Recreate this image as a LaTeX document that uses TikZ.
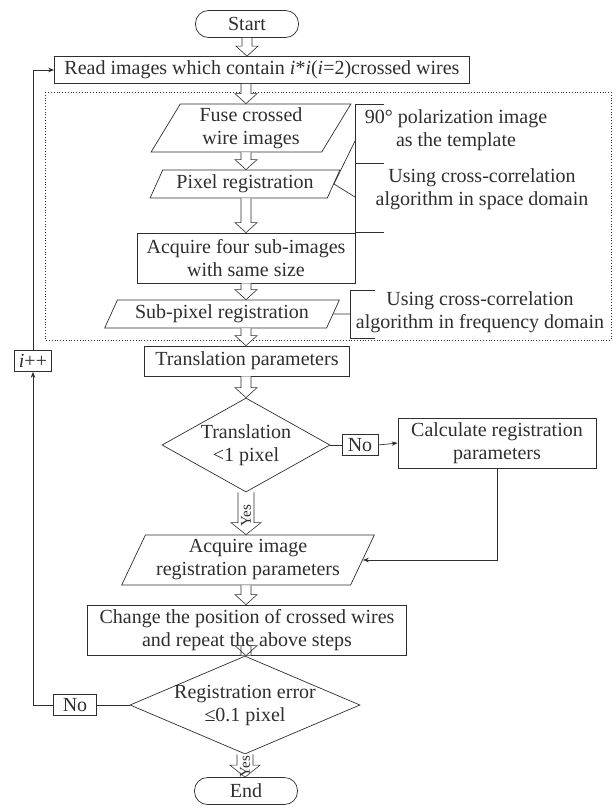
\documentclass[tikz,border=0pt]{standalone}
\usepackage{fontspec}
\setmainfont{Liberation Serif}
\usetikzlibrary{shapes.geometric,arrows.meta,calc}
\definecolor{ink}{gray}{0.18}
\tikzset{
  flowNode/.style = {draw=ink, text=ink, align=center, inner sep=2pt, line width=0.7pt},
  %terminal node
  nodeTerm/.style = {flowNode, rounded corners=13pt, minimum width=103, minimum height=27},
  %process node
  nodeProc/.style = {flowNode, rectangle, minimum height=29},
  %data node
  nodeData/.style = {flowNode, trapezium, trapezium left angle=64,
    trapezium right angle=116, trapezium stretches=true},
  %decision node
  nodeDec/.style = {flowNode, diamond},
  %small tag
  nodeTag/.style = {flowNode, inner sep=1.5pt, minimum height=21},
  %side note
  nodeNote/.style = {text=ink, align=center, inner sep=0pt},
  link/.style = {draw=ink, line width=0.7pt},
  tip/.style = {-{Stealth[length=6pt,width=4.5pt]}}
}
\newcommand{\blockArrow}[2]{%
  \path (#1) coordinate (ba);
  \path (ba |- #2) coordinate (bb);
  \draw[ink, fill=white, line width=0.6pt] ($(ba)+(-5,0)$) -- ($(bb)+(-5,-10)$)
    -- ($(bb)+(-11,-10)$) -- (bb) -- ($(bb)+(11,-10)$) -- ($(bb)+(5,-10)$) -- ($(ba)+(5,0)$);}
\newcommand{\yesArrow}[2]{%
  \path (#1) coordinate (ba);
  \path (ba |- #2) coordinate (bb);
  \draw[ink, fill=white, line width=0.6pt] ($(ba)+(-8,0)$) -- ($(bb)+(-8,-12)$)
    -- ($(bb)+(-15,-12)$) -- (bb) -- ($(bb)+(15,-12)$) -- ($(bb)+(8,-12)$) -- ($(ba)+(8,0)$);
  \node[text=ink, rotate=90, inner sep=0pt, font=\fontsize{15}{15}\selectfont]
    at ($(ba)!0.55!(bb)$) {Yes};}

\begin{document}
\begin{tikzpicture}[x=1pt, y=-1pt, font=\fontsize{20}{23}\selectfont]
\useasboundingbox (0,0) rectangle (616,809);
\coordinate (axis) at (246,0);

% registration block
\draw[ink, dotted, line width=0.8pt] (45,92) rectangle (611,340);

\node [nodeTerm] (start) at (247,24) {Start};
\node [nodeProc, minimum width=415, minimum height=27] (read) at (262,70)
  {Read images which contain \textit{i}*\textit{i}(\textit{i}=2)crossed wires};
\node [nodeData, minimum width=200, minimum height=48] (fuse) at (251,128)
  {Fuse crossed\\wire images};
\node [nodeData, minimum width=190, minimum height=28] (pixreg) at (245,184)
  {Pixel registration};
\node [nodeProc, minimum width=218, minimum height=50] (acqfour) at (246,258)
  {Acquire four sub-images\\with same size};
\node [nodeData, minimum width=235, minimum height=28] (subpix) at (222,314)
  {Sub-pixel registration};
\node [nodeProc, minimum width=205, minimum height=30] (transl) at (247,361)
  {Translation parameters};
\node [nodeDec, minimum width=168, minimum height=94,
  label={[nodeNote]center:Translation\\<1 pixel}] (testA) at (246,445) {};
\node [nodeTag, minimum width=36] (noA) at (360,445) {No};
\node [nodeProc, minimum width=198, minimum height=50] (calc) at (497,443)
  {Calculate registration\\parameters};
\node [nodeData, minimum width=253, minimum height=50] (acqimg) at (248,560)
  {Acquire image\\registration parameters};
\node [nodeProc, minimum width=319, minimum height=50] (change) at (247,630)
  {Change the position of crossed wires\\and repeat the above steps};
\node [nodeDec, minimum width=230, minimum height=98,
  label={[nodeNote]center:Registration error\\≤0.1 pixel}] (testB) at (245,705) {};
\node [nodeTag, minimum width=43] (noB) at (75,705) {No};
\node [nodeTag, minimum width=37] (incr) at (33,361) {\textit{i}++};
\node [nodeTerm] (end) at (246,791) {End};

% notes on the right
\node [nodeNote] (tmpl) at (456,130) {90° polarization image\\as the template};
\node [nodeNote] (space) at (482,189) {Using cross-correlation\\algorithm in space domain};
\node [nodeNote] (freq) at (480,312) {Using cross-correlation\\algorithm in frequency domain};
\draw[link] (384,104) -- (355,104) -- (355,232) -- (384,232);
\draw[link] (355,163) -- (384,163);
\draw[link] (355,141) -- (pixreg.east) -- (355,197);
\draw[link] (375,290) -- (350,290) -- (350,338) -- (375,338);
\draw[link] (subpix.east) -- (350,314);

% main flow
\blockArrow{start.south}{read.north}
\blockArrow{axis |- read.south}{fuse.north}
\blockArrow{axis |- fuse.south}{pixreg.north}
\blockArrow{axis |- pixreg.south}{acqfour.north}
\blockArrow{axis |- acqfour.south}{subpix.north}
\blockArrow{axis |- subpix.south}{transl.north}
\blockArrow{axis |- transl.south}{testA.north}
\yesArrow{testA.south}{acqimg.north}
\blockArrow{axis |- acqimg.south}{change.north}
\blockArrow{axis |- change.south}{testB.north}
\yesArrow{testB.south}{end.north}

% branches
\draw[link] (testA.east) -- (noA.west);
\draw[link, tip] (noA.east) -- (calc.west);
\draw[link, tip] (calc.south) |- (acqimg.east);
\draw[link] (testB.west) -- (noB.east);
\draw[link, tip] (noB.west) -| (incr.south);
\draw[link, tip] (incr.north) |- (read.west);
\end{tikzpicture}
\end{document}
